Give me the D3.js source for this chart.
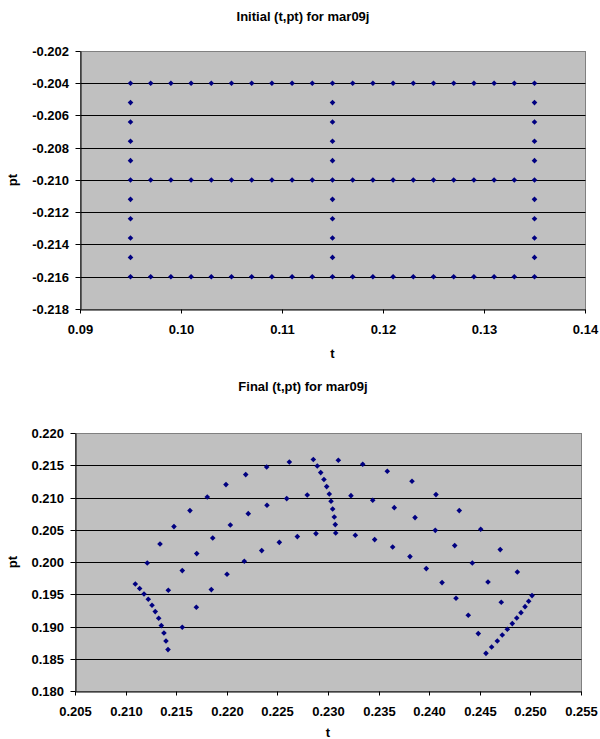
<!DOCTYPE html>
<html>
<head>
<meta charset="utf-8">
<script src="https://cdn.jsdelivr.net/npm/d3@7"></script>
<style>
  html, body { margin: 0; padding: 0; background: #fff; }
  svg text { font-family: "Liberation Sans", Arial, sans-serif; font-weight: bold; fill: #000; }
</style>
</head>
<body>
<svg id="chart" width="600" height="739"></svg>
<script>
// ---- Initial (t,pt) grid: three rows and three columns ----
const initialRowTop = [[0.095,-0.204],[0.097,-0.204],[0.099,-0.204],[0.101,-0.204],[0.103,-0.204],[0.105,-0.204],[0.107,-0.204],[0.109,-0.204],[0.111,-0.204],[0.113,-0.204],[0.115,-0.204],[0.117,-0.204],[0.119,-0.204],[0.121,-0.204],[0.123,-0.204],[0.125,-0.204],[0.127,-0.204],[0.129,-0.204],[0.131,-0.204],[0.133,-0.204],[0.135,-0.204]];
const initialRowMid = [[0.095,-0.210],[0.097,-0.210],[0.099,-0.210],[0.101,-0.210],[0.103,-0.210],[0.105,-0.210],[0.107,-0.210],[0.109,-0.210],[0.111,-0.210],[0.113,-0.210],[0.115,-0.210],[0.117,-0.210],[0.119,-0.210],[0.121,-0.210],[0.123,-0.210],[0.125,-0.210],[0.127,-0.210],[0.129,-0.210],[0.131,-0.210],[0.133,-0.210],[0.135,-0.210]];
const initialRowBottom = [[0.095,-0.216],[0.097,-0.216],[0.099,-0.216],[0.101,-0.216],[0.103,-0.216],[0.105,-0.216],[0.107,-0.216],[0.109,-0.216],[0.111,-0.216],[0.113,-0.216],[0.115,-0.216],[0.117,-0.216],[0.119,-0.216],[0.121,-0.216],[0.123,-0.216],[0.125,-0.216],[0.127,-0.216],[0.129,-0.216],[0.131,-0.216],[0.133,-0.216],[0.135,-0.216]];
const initialColLeft = [[0.095,-0.2052],[0.095,-0.2064],[0.095,-0.2076],[0.095,-0.2088],[0.095,-0.2112],[0.095,-0.2124],[0.095,-0.2136],[0.095,-0.2148]];
const initialColMid = [[0.115,-0.2052],[0.115,-0.2064],[0.115,-0.2076],[0.115,-0.2088],[0.115,-0.2112],[0.115,-0.2124],[0.115,-0.2136],[0.115,-0.2148]];
const initialColRight = [[0.135,-0.2052],[0.135,-0.2064],[0.135,-0.2076],[0.135,-0.2088],[0.135,-0.2112],[0.135,-0.2124],[0.135,-0.2136],[0.135,-0.2148]];

// ---- Final (t,pt): the same grid after mapping ----
const finalRowOuter = [[0.21096,0.19659],[0.21214,0.19984],[0.21340,0.20279],[0.21478,0.20549],[0.21636,0.20797],[0.21807,0.21008],[0.21992,0.21200],[0.22187,0.21355],[0.22394,0.21473],[0.22618,0.21550],[0.22855,0.21588],[0.23102,0.21577],[0.23343,0.21515],[0.23586,0.21406],[0.23830,0.21251],[0.24067,0.21045],[0.24297,0.20797],[0.24509,0.20507],[0.24702,0.20192],[0.24871,0.19845],[0.25016,0.19479]];
const finalRowMid = [[0.21293,0.19231],[0.21422,0.19561],[0.21560,0.19867],[0.21703,0.20130],[0.21861,0.20372],[0.22035,0.20574],[0.22212,0.20750],[0.22397,0.20879],[0.22592,0.20983],[0.22795,0.21039],[0.23013,0.21054],[0.23227,0.21029],[0.23442,0.20957],[0.23655,0.20843],[0.23860,0.20688],[0.24060,0.20491],[0.24252,0.20254],[0.24426,0.19984],[0.24581,0.19690],[0.24712,0.19375],[0.24821,0.19045]];
const finalRowInner = [[0.21419,0.18642],[0.21560,0.18988],[0.21699,0.19298],[0.21847,0.19572],[0.22002,0.19809],[0.22173,0.20011],[0.22345,0.20177],[0.22519,0.20305],[0.22697,0.20394],[0.22881,0.20440],[0.23076,0.20450],[0.23270,0.20414],[0.23461,0.20347],[0.23639,0.20233],[0.23810,0.20084],[0.23971,0.19898],[0.24127,0.19681],[0.24265,0.19437],[0.24386,0.19174],[0.24485,0.18890],[0.24561,0.18584]];
const finalColLeft = [[0.21139,0.19588],[0.21182,0.19504],[0.21224,0.19422],[0.21261,0.19329],[0.21327,0.19127],[0.21353,0.19014],[0.21379,0.18899],[0.21399,0.18775]];
const finalColMid = [[0.22894,0.21488],[0.22928,0.21386],[0.22960,0.21278],[0.22987,0.21169],[0.23030,0.20941],[0.23046,0.20822],[0.23062,0.20698],[0.23072,0.20580]];
const finalColRight = [[0.24983,0.19391],[0.24947,0.19308],[0.24907,0.19215],[0.24865,0.19132],[0.24772,0.18957],[0.24722,0.18868],[0.24673,0.18775],[0.24617,0.18682]];

// ---- Axis ticks and labels ----
const initialXTicks = [0.09, 0.10, 0.11, 0.12, 0.13, 0.14];
const initialXLabels = ["0.09", "0.10", "0.11", "0.12", "0.13", "0.14"];
const initialYTicks = [-0.218, -0.216, -0.214, -0.212, -0.210, -0.208, -0.206, -0.204, -0.202];
const initialYLabels = ["-0.218", "-0.216", "-0.214", "-0.212", "-0.210", "-0.208", "-0.206", "-0.204", "-0.202"];
const finalXTicks = [0.205, 0.210, 0.215, 0.220, 0.225, 0.230, 0.235, 0.240, 0.245, 0.250, 0.255];
const finalXLabels = ["0.205", "0.210", "0.215", "0.220", "0.225", "0.230", "0.235", "0.240", "0.245", "0.250", "0.255"];
const finalYTicks = [0.180, 0.185, 0.190, 0.195, 0.200, 0.205, 0.210, 0.215, 0.220];
const finalYLabels = ["0.180", "0.185", "0.190", "0.195", "0.200", "0.205", "0.210", "0.215", "0.220"];

const svg = d3.select("#chart");

function drawPanel(cfg) {
  const { left, right, top, bottom } = cfg.box;
  const x = d3.scaleLinear().domain([cfg.xTicks[0], cfg.xTicks[cfg.xTicks.length - 1]]).range([left, right]);
  const y = d3.scaleLinear().domain([cfg.yTicks[0], cfg.yTicks[cfg.yTicks.length - 1]]).range([bottom, top]);
  const g = svg.append("g");
  const snap = v => Math.round(v) + 0.5;

  // plot area
  g.append("rect")
    .attr("x", snap(left)).attr("y", snap(top))
    .attr("width", snap(right) - snap(left)).attr("height", snap(bottom) - snap(top))
    .attr("fill", "#c0c0c0").attr("stroke", "#808080").attr("stroke-width", 1);

  // horizontal gridlines
  g.selectAll(".grid")
    .data(cfg.yTicks.slice(1, -1))
    .join("line")
    .attr("x1", snap(left)).attr("x2", snap(right))
    .attr("y1", d => snap(y(d))).attr("y2", d => snap(y(d)))
    .attr("stroke", "#000").attr("stroke-width", 1);

  // y axis
  const yAxis = d3.axisLeft(y)
    .tickValues(cfg.yTicks)
    .tickFormat((d, i) => cfg.yLabels[i])
    .tickSize(5).tickSizeOuter(0).tickPadding(6.5);
  const ya = g.append("g").attr("transform", `translate(${snap(left)},0)`).call(yAxis);
  ya.selectAll(".tick").attr("transform", d => `translate(0,${snap(y(d))})`);
  ya.select(".domain").attr("stroke", "#000");
  ya.selectAll("line").attr("stroke", "#000");
  ya.selectAll("text").attr("font-size", 13).attr("font-family", null).attr("dy", "0.36em");

  // x axis
  const xAxis = d3.axisBottom(x)
    .tickValues(cfg.xTicks)
    .tickFormat((d, i) => cfg.xLabels[i])
    .tickSize(4).tickSizeOuter(0).tickPadding(11);
  const xa = g.append("g").attr("transform", `translate(0,${snap(bottom)})`).call(xAxis);
  xa.selectAll(".tick").attr("transform", d => `translate(${snap(x(d))},0)`);
  xa.select(".domain").attr("stroke", "#000");
  xa.selectAll("line").attr("stroke", "#000");
  xa.selectAll("text").attr("font-size", 13).attr("font-family", null);

  // markers
  const diamond = "M0,-2.8L2.8,0L0,2.8L-2.8,0Z";
  cfg.series.forEach(pts => {
    g.selectAll(null)
      .data(pts)
      .join("path")
      .attr("d", diamond)
      .attr("transform", d => `translate(${x(d[0])},${y(d[1])})`)
      .attr("fill", "#000080");
  });

  // titles
  g.append("text").attr("x", 303).attr("y", cfg.titleY)
    .attr("text-anchor", "middle").attr("font-size", 13).text(cfg.title);
  g.append("text").attr("x", (left + right) / 2).attr("y", cfg.xTitleY)
    .attr("text-anchor", "middle").attr("font-size", 13).text("t");
  g.append("text")
    .attr("transform", `translate(17,${(top + bottom) / 2}) rotate(-90)`)
    .attr("text-anchor", "middle").attr("font-size", 13).text("pt");
}

drawPanel({
  title: "Initial (t,pt) for mar09j",
  titleY: 21,
  xTitleY: 358,
  box: { left: 80, right: 585, top: 51, bottom: 309 },
  xTicks: initialXTicks, xLabels: initialXLabels,
  yTicks: initialYTicks, yLabels: initialYLabels,
  series: [initialRowTop, initialRowMid, initialRowBottom, initialColLeft, initialColMid, initialColRight]
});

drawPanel({
  title: "Final (t,pt) for mar09j",
  titleY: 391,
  xTitleY: 737,
  box: { left: 75, right: 581, top: 433, bottom: 691 },
  xTicks: finalXTicks, xLabels: finalXLabels,
  yTicks: finalYTicks, yLabels: finalYLabels,
  series: [finalRowOuter, finalRowMid, finalRowInner, finalColLeft, finalColMid, finalColRight]
});
</script>
</body>
</html>
